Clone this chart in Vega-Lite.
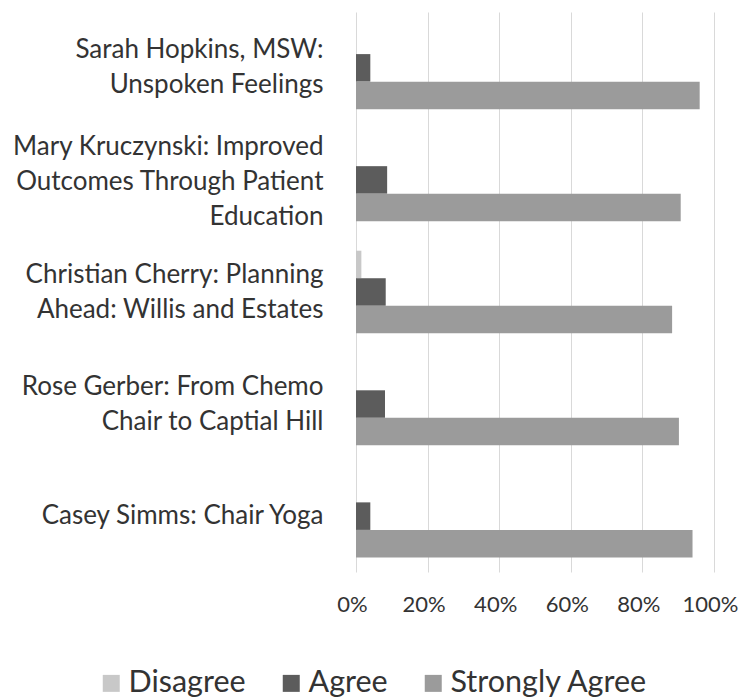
{
  "$schema": "https://vega.github.io/schema/vega-lite/v6.json",
  "width": 358,
  "height": 560,
  "autosize": {"type": "none"},
  "padding": {"left": 356, "top": 12, "right": 36, "bottom": 128},
  "background": "white",
  "data": {
    "values": [
      {"speaker": "Sarah Hopkins, MSW:|Unspoken Feelings", "response": "Disagree", "value": 0},
      {"speaker": "Sarah Hopkins, MSW:|Unspoken Feelings", "response": "Agree", "value": 0.04},
      {"speaker": "Sarah Hopkins, MSW:|Unspoken Feelings", "response": "Strongly Agree", "value": 0.96},
      {"speaker": "Mary Kruczynski: Improved|Outcomes Through Patient|Education", "response": "Disagree", "value": 0},
      {"speaker": "Mary Kruczynski: Improved|Outcomes Through Patient|Education", "response": "Agree", "value": 0.087},
      {"speaker": "Mary Kruczynski: Improved|Outcomes Through Patient|Education", "response": "Strongly Agree", "value": 0.907},
      {"speaker": "Christian Cherry: Planning|Ahead: Willis and Estates", "response": "Disagree", "value": 0.015},
      {"speaker": "Christian Cherry: Planning|Ahead: Willis and Estates", "response": "Agree", "value": 0.083},
      {"speaker": "Christian Cherry: Planning|Ahead: Willis and Estates", "response": "Strongly Agree", "value": 0.883},
      {"speaker": "Rose Gerber: From Chemo|Chair to Captial Hill", "response": "Disagree", "value": 0},
      {"speaker": "Rose Gerber: From Chemo|Chair to Captial Hill", "response": "Agree", "value": 0.081},
      {"speaker": "Rose Gerber: From Chemo|Chair to Captial Hill", "response": "Strongly Agree", "value": 0.902},
      {"speaker": "Casey Simms: Chair Yoga", "response": "Disagree", "value": 0},
      {"speaker": "Casey Simms: Chair Yoga", "response": "Agree", "value": 0.04},
      {"speaker": "Casey Simms: Chair Yoga", "response": "Strongly Agree", "value": 0.94}
    ]
  },
  "mark": {"type": "bar"},
  "encoding": {
    "y": {
      "field": "speaker",
      "type": "nominal",
      "sort": [
        "Sarah Hopkins, MSW:|Unspoken Feelings",
        "Mary Kruczynski: Improved|Outcomes Through Patient|Education",
        "Christian Cherry: Planning|Ahead: Willis and Estates",
        "Rose Gerber: From Chemo|Chair to Captial Hill",
        "Casey Simms: Chair Yoga"
      ],
      "scale": {"paddingInner": 0.263, "paddingOuter": 0.13},
      "axis": {
        "title": null,
        "labelExpr": "split(datum.label, '|')",
        "labelFont": "Lato",
        "labelFontSize": 26,
        "labelColor": "#333333",
        "labelLineHeight": 35,
        "labelPadding": 33,
        "labelLimit": 400,
        "labelOffset": {
          "condition": [
            {"test": "indexof(datum.value, 'Education') >= 0", "value": -33},
            {"test": "datum.value === 'Casey Simms: Chair Yoga'", "value": 0}
          ],
          "value": -17.5
        },
        "domain": false,
        "ticks": false,
        "grid": false
      }
    },
    "yOffset": {
      "field": "response",
      "type": "nominal",
      "sort": ["Disagree", "Agree", "Strongly Agree"],
      "scale": {"paddingInner": 0, "paddingOuter": 0}
    },
    "x": {
      "field": "value",
      "type": "quantitative",
      "scale": {"domain": [0, 1]},
      "axis": {
        "title": null,
        "format": ".0%",
        "values": [0, 0.2, 0.4, 0.6, 0.8, 1],
        "labelFont": "Lato",
        "labelFontSize": 22,
        "labelColor": "#333333",
        "labelPadding": 22,
        "labelOffset": -4,
        "labelFlush": false,
        "labelOverlap": false,
        "labelBound": false,
        "domain": false,
        "ticks": false,
        "grid": true,
        "gridColor": "#d9d9d9",
        "gridWidth": 1
      }
    },
    "color": {
      "field": "response",
      "type": "nominal",
      "sort": ["Disagree", "Agree", "Strongly Agree"],
      "scale": {
        "domain": ["Disagree", "Agree", "Strongly Agree"],
        "range": ["#c8c8c8", "#5c5c5c", "#9b9b9b"]
      },
      "legend": {
        "title": null,
        "orient": "none",
        "direction": "horizontal",
        "legendX": -260,
        "legendY": 656,
        "symbolType": "square",
        "symbolSize": 289,
        "symbolStrokeWidth": 0,
        "labelFont": "Lato",
        "labelFontSize": 30.5,
        "labelColor": "#333333",
        "labelLimit": 400,
        "columnPadding": 30,
        "labelOffset": 2
      }
    }
  },
  "config": {"view": {"stroke": null}}
}
